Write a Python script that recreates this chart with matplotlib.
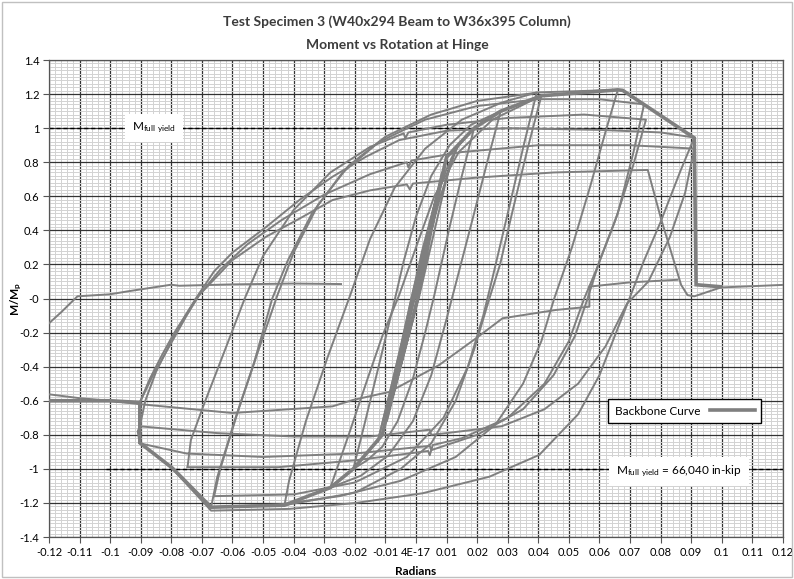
import matplotlib.pyplot as plt
import numpy as np
from matplotlib.patches import Rectangle
from matplotlib.lines import Line2D

plt.rcParams['font.family'] = ['Lato', 'DejaVu Sans']
plt.rcParams['mathtext.default'] = 'regular'

# hinge rotation (rad) and normalised moment M/Mp, one pair of lists per loading stage
elastic_rot = [0.0, 0.0045, -0.0008, -0.0055, 0.0003, 0.0065, -0.0011, -0.0075, 0.0005, 0.0085,
               -0.0013, -0.0095, 0.0007, 0.0100, -0.0015, -0.0110, 0.0009, 0.0115, 0.0130, 0.0080,
               -0.0010, -0.0125]
elastic_mom = [0.0, 0.40, 0.0, -0.40, 0.0, 0.58, 0.0, -0.57, 0.0, 0.74,
               0.0, -0.72, 0.0, 0.83, 0.0, -0.80, 0.0, 0.82, 0.87, 0.60,
               0.0, -0.84]

cyc_b_rot = [-0.0125, -0.0085, -0.0050, -0.0015, 0.0020, 0.0060, 0.0100, 0.0140, 0.0190,
             0.0150, 0.0110, 0.0060, 0.0030, -0.0010, -0.0060, -0.0110, -0.0160, -0.0205]
cyc_b_mom = [-0.84, -0.55, -0.28, 0.00, 0.28, 0.55, 0.76, 0.90, 1.00,
             0.72, 0.42, 0.02, -0.20, -0.47, -0.72, -0.87, -0.95, -1.00]

cyc_c_rot = [-0.0205, -0.0170, -0.0125, -0.0075, -0.0040, 0.0000, 0.0050, 0.0110, 0.0180, 0.0277,
             0.0240, 0.0190, 0.0135, 0.0100, 0.0050, -0.0010, -0.0090, -0.0180, -0.0280]
cyc_c_mom = [-1.00, -0.75, -0.42, -0.05, 0.22, 0.48, 0.72, 0.90, 1.02, 1.10,
             0.85, 0.50, 0.12, -0.12, -0.45, -0.72, -0.92, -1.04, -1.11]

cyc_d_rot = [-0.0280, -0.0220, -0.0160, -0.0110, -0.0055, 0.0000, 0.0060, 0.0140, 0.0250, 0.0410,
             0.0365, 0.0310, 0.0275, 0.0240, 0.0190, 0.0130, 0.0050, -0.0050, -0.0200, -0.0430]
cyc_d_mom = [-1.11, -0.80, -0.48, -0.22, 0.02, 0.30, 0.60, 0.86, 1.05, 1.19,
             0.88, 0.47, 0.20, 0.00, -0.30, -0.60, -0.85, -1.00, -1.14, -1.213]

cyc_d2_rot = [-0.0430, -0.0415, -0.0360, -0.0290, -0.0215, -0.0150, -0.0070, 0.0030, 0.0150, 0.0280, 0.0395,
              0.0355, 0.0300, 0.0250, 0.0220, 0.0170, 0.0090, -0.0030, -0.0200, -0.0400, -0.0660]
cyc_d2_mom = [-1.213, -1.07, -0.72, -0.35, 0.02, 0.35, 0.65, 0.88, 1.05, 1.15, 1.21,
              0.92, 0.50, 0.12, -0.10, -0.40, -0.70, -0.93, -1.08, -1.15, -1.16]

cyc_f_rot = [-0.0660, -0.0640, -0.0580, -0.0520, -0.0453, -0.0400, -0.0320, -0.0220, -0.0100, 0.0050,
             0.0200, 0.0400, 0.0660, 0.0620, 0.0570, 0.0510, 0.0452, 0.0410, 0.0350, 0.0260,
             0.0130, -0.0050, -0.0250, -0.0450, -0.0670]
cyc_f_mom = [-1.16, -1.00, -0.65, -0.33, 0.02, 0.27, 0.55, 0.78, 0.95, 1.08,
             1.16, 1.21, 1.225, 0.98, 0.66, 0.30, 0.00, -0.25, -0.50, -0.74,
             -0.93, -1.07, -1.16, -1.21, -1.225]

cyc_f2_rot = [-0.0670, -0.0650, -0.0590, -0.0530, -0.0470, -0.0420, -0.0340, -0.0240, -0.0120, 0.0030,
              0.0200, 0.0400, 0.0600, 0.0746, 0.0710, 0.0660, 0.0600, 0.0561, 0.0520, 0.0450,
              0.0350, 0.0200, 0.0050, 0.0045, 0.0040, -0.0200, -0.0450, -0.0747]
cyc_f2_mom = [-1.225, -1.05, -0.70, -0.38, 0.00, 0.22, 0.50, 0.74, 0.92, 1.05,
              1.13, 1.17, 1.17, 1.14, 0.85, 0.50, 0.22, 0.00, -0.22, -0.45,
              -0.65, -0.80, -0.89, -0.92, -0.895, -0.95, -0.99, -0.99]

cyc_g_rot = [-0.0747, -0.0736, -0.0692, -0.0637, -0.0560, -0.0500, -0.0400, -0.0280, -0.0150, -0.0040,
             -0.0035, -0.0025, 0.0100, 0.0300, 0.0550, 0.0752, 0.0710, 0.0650, 0.0590, 0.0550,
             0.0500, 0.0420, 0.0300, 0.0150, 0.0055, 0.0050, 0.0045, -0.0200, -0.0500, -0.0750,
             -0.0903, -0.0910, -0.0903]
cyc_g_mom = [-0.99, -0.83, -0.615, -0.36, 0.00, 0.25, 0.52, 0.74, 0.89, 0.97,
             0.94, 0.975, 1.02, 1.06, 1.08, 1.05, 0.78, 0.45, 0.17, 0.00,
             -0.25, -0.50, -0.70, -0.82, -0.86, -0.89, -0.865, -0.91, -0.93, -0.91,
             -0.85, -0.78, -0.75]

cyc_h1_rot = [-0.0903, -0.0885, -0.0850, -0.0800, -0.0750, -0.0720, -0.0660, -0.0600, -0.0490, -0.0380,
              -0.0273, -0.0164, -0.0055, 0.0100, 0.0300, 0.0600, 0.0800, 0.0910, 0.0865, 0.0800,
              0.0745, 0.0698, 0.0650, 0.0600, 0.0530, 0.0403, 0.0240, 0.0022, -0.0196, -0.0414,
              -0.0670, -0.0796, -0.0903, -0.0903]
cyc_h1_mom = [-0.75, -0.60, -0.43, -0.25, -0.09, 0.00, 0.16, 0.27, 0.42, 0.58,
              0.715, 0.832, 0.93, 0.985, 1.00, 0.99, 0.975, 0.945, 0.75, 0.45,
              0.22, 0.00, -0.22, -0.45, -0.68, -0.918, -1.046, -1.143, -1.20, -1.235,
              -1.245, -1.00, -0.847, -0.61]

cyc_h2_rot = [-0.0903, -0.0870, -0.0830, -0.0790, -0.0740, -0.0709, -0.0640, -0.0550, -0.0440, -0.0300,
              -0.0150, -0.0030, -0.0025, -0.0015, 0.0150, 0.0400, 0.0700, 0.0910, 0.0880, 0.0830,
              0.0760, 0.0690, 0.0620, 0.0530, 0.0420, 0.0280, 0.0100, 0.0050, 0.0045, -0.0150,
              -0.0400, -0.0650, -0.0903, -0.0903]
cyc_h2_mom = [-0.61, -0.47, -0.33, -0.20, -0.06, 0.02, 0.17, 0.32, 0.46, 0.61,
              0.73, 0.80, 0.77, 0.81, 0.86, 0.90, 0.90, 0.88, 0.62, 0.36,
              0.10, -0.03, -0.28, -0.50, -0.65, -0.75, -0.79, -0.80, -0.77, -0.81,
              -0.81, -0.79, -0.75, -0.61]

cyc_h3_rot = [-0.0903, -0.0860, -0.0800, -0.0750, -0.0709, -0.0600, -0.0490, -0.0380, -0.0273, -0.0150,
              -0.0030, -0.0020, -0.0010, 0.0200, 0.0450, 0.0758, 0.0801, 0.0867, 0.0888, 0.0910,
              0.0997, 0.1200]
cyc_h3_mom = [-0.61, -0.45, -0.26, -0.10, 0.02, 0.226, 0.363, 0.47, 0.578, 0.635,
              0.67, 0.64, 0.675, 0.71, 0.74, 0.755, 0.47, 0.08, 0.02, 0.013,
              0.065, 0.08]

# after the flange fracture
tail_rot = [0.0855, 0.0700, 0.0567, 0.0567, 0.0567, 0.0458, 0.0283, 0.0196, 0.0076, -0.0087,
            -0.0207, -0.0273, -0.0600, -0.0903, -0.1000, -0.1100, -0.1210]
tail_mom = [0.11, 0.095, 0.07, 0.00, -0.048, -0.067, -0.116, -0.234, -0.39, -0.548,
            -0.596, -0.633, -0.672, -0.62, -0.60, -0.585, -0.56]

final_rot = [-0.1215, -0.1160, -0.1107, -0.1000, -0.0943, -0.0801, -0.0774, -0.0600, -0.0400, -0.0245]
final_mom = [-0.17, -0.08, 0.013, 0.025, 0.042, 0.081, 0.075, 0.083, 0.088, 0.085]

backbone_rot = [-0.1200, -0.1000, -0.0903, -0.0903, -0.0796, -0.0670, -0.0430, -0.0280, -0.0205, -0.0110,
                0.0100, 0.0190, 0.0277, 0.0410, 0.0660, 0.0676, 0.0910, 0.0916, 0.0997]
backbone_mom = [-0.600, -0.600, -0.610, -0.847, -0.996, -1.225, -1.213, -1.110, -1.000, -0.800,
                0.830, 1.000, 1.100, 1.190, 1.225, 1.222, 0.943, 0.081, 0.069]

x_ticks = np.round(np.arange(-0.12, 0.1201, 0.01), 2)
x_labels = ['4E-17' if abs(v) < 1e-9 else f'{v:g}' for v in x_ticks]
y_ticks = np.round(np.arange(-1.4, 1.401, 0.2), 1)
y_labels = [f'{v:g}' for v in y_ticks]

grey = '#7f7f7f'

fig = plt.figure(figsize=(7.94, 5.79), dpi=100)
ax = fig.add_axes([0.0617, 0.0725, 0.9244, 0.8238])

stages = [(elastic_rot, elastic_mom), (cyc_b_rot, cyc_b_mom), (cyc_c_rot, cyc_c_mom),
          (cyc_d_rot, cyc_d_mom), (cyc_d2_rot, cyc_d2_mom), (cyc_f_rot, cyc_f_mom),
          (cyc_f2_rot, cyc_f2_mom), (cyc_g_rot, cyc_g_mom), (cyc_h1_rot, cyc_h1_mom),
          (cyc_h2_rot, cyc_h2_mom), (cyc_h3_rot, cyc_h3_mom), (tail_rot, tail_mom),
          (final_rot, final_mom)]
for rot, mom in stages:
    ax.plot(rot, mom, color=grey, lw=1.4, zorder=3)

ax.plot(backbone_rot, backbone_mom, color=grey, lw=2.6, zorder=4, solid_joinstyle='miter')

# full yield moment reference lines
ax.plot([-0.12, 0.0855], [1, 1], color='k', lw=1.0, ls=(0, (3, 2)), zorder=2)
ax.plot([-0.1013, 0.12], [-1, -1], color='k', lw=1.0, ls=(0, (3, 2)), zorder=2)

ax.text(-0.0856, 1.0, 'M$_{full\\ yield}$', fontsize=8.5, ha='center', va='center', zorder=5,
        bbox=dict(boxstyle='square,pad=0.6', fc='white', ec='none'))
ax.text(0.0655, -1.015, 'M$_{full\\ yield}$ = 66,040 in-kip', fontsize=8.5, ha='left', va='center',
        zorder=5, bbox=dict(boxstyle='square,pad=0.6', fc='white', ec='none'))

leg = ax.legend([Line2D([], [], color=grey, lw=2.6)], ['Backbone Curve'], loc='center',
                bbox_to_anchor=(0.866, 0.264), fontsize=8.5, markerfirst=False, fancybox=False,
                framealpha=1, edgecolor='k', handlelength=3.8, borderpad=0.55)
leg.get_frame().set_linewidth(1.0)
leg.set_zorder(6)

ax.set_xlim(-0.12, 0.12)
ax.set_ylim(-1.4, 1.4)
ax.set_xticks(x_ticks)
ax.set_xticklabels(x_labels)
ax.set_yticks(y_ticks)
ax.set_yticklabels(y_labels)
ax.set_xticks(np.arange(-0.12, 0.1201, 0.002), minor=True)
ax.set_yticks(np.arange(-1.4, 1.401, 0.02), minor=True)
ax.grid(which='major', color='#333333', lw=0.9, zorder=1)
ax.grid(which='minor', color='#d2d2d2', lw=0.7, zorder=0)
ax.set_axisbelow(True)
ax.tick_params(which='major', labelsize=8, length=4, color='#555555', pad=3)
ax.tick_params(which='minor', length=0)
for s in ax.spines.values():
    s.set_color('#555555')
    s.set_linewidth(0.9)

ax.set_xlabel('Radians', fontsize=8.5, fontweight='bold', labelpad=6)
ax.set_ylabel('M/M$_p$', fontsize=8.5, fontweight='bold')
ax.yaxis.set_label_coords(-0.034, 0.5)

fig.text(0.5, 0.962, 'Test Specimen 3 (W40x294 Beam to W36x395 Column)', ha='center', va='center',
         fontsize=10, fontweight='bold', color='#3c3c3c')
fig.text(0.5, 0.922, 'Moment vs Rotation at Hinge', ha='center', va='center',
         fontsize=10, fontweight='bold', color='#3c3c3c')

fig.patches.append(Rectangle((0.003, 0.003), 0.994, 0.994, transform=fig.transFigure,
                             fill=False, edgecolor='#c0c0c0', lw=1.0))

fig.savefig('out.png', dpi=100)
